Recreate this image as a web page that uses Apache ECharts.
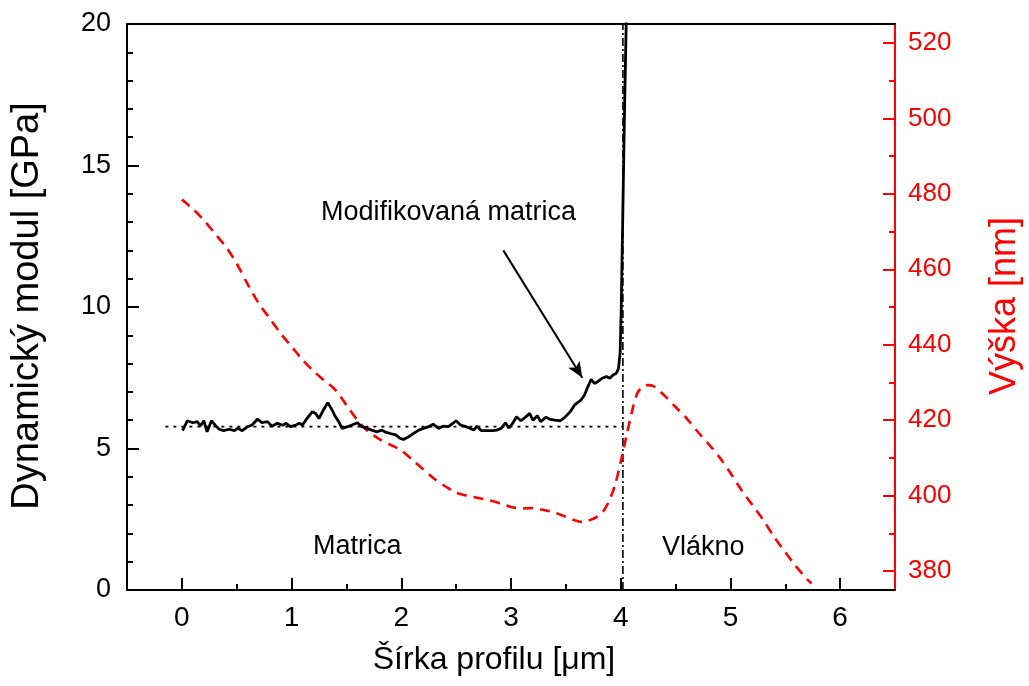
<!DOCTYPE html>
<html>
<head>
<meta charset="utf-8">
<script src="https://cdn.jsdelivr.net/npm/echarts@6/dist/echarts.min.js"></script>
<style>
  html, body { margin: 0; padding: 0; background: #fff; }
  #chart { width: 1029px; height: 686px; }
</style>
</head>
<body>
<div id="chart"></div>
<script>
// Dynamic modulus profile [GPa] across the matrix / fibre interface
const modulX = [0.006,0.05,0.10,0.14,0.17,0.20,0.23,0.27,0.31,0.34,0.38,0.43,0.48,0.51,0.55,0.60,0.64,0.69,0.73,0.78,0.82,0.87,0.92,0.95,0.99,1.04,1.07,1.10,1.14,1.19,1.22,1.25,1.29,1.33,1.37,1.40,1.43,1.46,1.51,1.55,1.60,1.64,1.69,1.73,1.78,1.82,1.85,1.90,1.95,1.99,2.02,2.07,2.11,2.16,2.20,2.25,2.29,2.34,2.38,2.43,2.46,2.50,2.54,2.59,2.63,2.66,2.69,2.73,2.78,2.83,2.87,2.91,2.95,2.98,3.01,3.05,3.09,3.13,3.17,3.20,3.24,3.27,3.32,3.35,3.40,3.45,3.49,3.54,3.58,3.62,3.64,3.67,3.70,3.73,3.76,3.79,3.83,3.87,3.90,3.93,3.96,3.98,3.995,4.005,4.02,4.035,4.05,4.056];
const modulY = [5.63,5.98,5.91,5.95,5.80,5.98,5.59,5.98,5.80,5.68,5.63,5.68,5.63,5.72,5.63,5.77,5.83,6.04,5.91,5.95,5.79,5.89,5.82,5.89,5.77,5.83,5.89,5.83,6.06,6.30,6.24,6.06,6.36,6.62,6.36,6.12,5.95,5.71,5.77,5.83,5.91,5.77,5.71,5.65,5.59,5.65,5.59,5.53,5.48,5.36,5.32,5.42,5.53,5.65,5.71,5.77,5.86,5.71,5.79,5.77,5.86,5.98,5.83,5.77,5.71,5.65,5.79,5.63,5.63,5.63,5.65,5.71,5.91,5.72,5.86,6.12,5.98,6.10,6.24,6.00,6.16,5.95,6.11,6.04,6.00,5.98,6.10,6.30,6.54,6.66,6.72,6.89,7.18,7.44,7.30,7.36,7.48,7.54,7.48,7.60,7.66,7.83,8.40,10.0,13.5,17.0,20.0,21.0];

// Surface height profile [nm]
const heightX = [0,0.1,0.2,0.3,0.4,0.5,0.6,0.7,0.8,0.9,1.0,1.1,1.2,1.3,1.4,1.5,1.6,1.7,1.8,1.9,2.0,2.1,2.2,2.3,2.4,2.5,2.6,2.7,2.8,2.9,3.0,3.1,3.2,3.3,3.4,3.5,3.6,3.65,3.7,3.78,3.84,3.9,3.95,4.0,4.05,4.1,4.15,4.2,4.25,4.3,4.4,4.5,4.6,4.7,4.8,4.9,5.0,5.1,5.2,5.3,5.4,5.5,5.6,5.7,5.74];
const heightY = [478.5,476,473,469.5,466,461.5,456,451,447,443,439.5,436,433,430.5,428,424,420,417,415,413.5,412,409.5,407,404.5,402.5,400.8,400,399.4,398.8,398,397,396.6,396.7,396.2,395.5,394.4,393.3,393,393.3,394.3,395.8,399,403,409,415.5,422,427,429,429.3,429,426.5,423.5,420.5,417,413.7,410.2,406,401.5,397.5,393.5,389,385,381.2,377.8,376.7];

// Reference guides: matrix modulus level and the matrix/fibre boundary
const matrixLevel = 5.77;
const levelFrom = -0.15;
const boundaryX = 4.02;

// Annotation arrow (from label to the modified-matrix zone)
const arrowFrom = [2.93, 12.0];
const arrowTo = [3.65, 7.5];

// Tick labels
const xTicks = [0, 1, 2, 3, 4, 5, 6];
const xMinorTicks = [0.5, 1.5, 2.5, 3.5, 4.5, 5.5];
const rightTicks = [380, 400, 420, 440, 460, 480, 500, 520];
const rightMinorTicks = [390, 410, 430, 450, 470, 490, 510];

const FONT = '"Liberation Sans", Arial, sans-serif';
const RED = '#ff0000';

const zip = (xs, ys) => xs.map((x, i) => [x, ys[i]]);

const chart = echarts.init(document.getElementById('chart'), null, { renderer: 'canvas' });

const grid = { left: 127, right: 134, top: 24, bottom: 96, containLabel: false };

chart.setOption({
  animation: false,
  backgroundColor: '#ffffff',
  grid: grid,
  xAxis: [
    {
      type: 'value', position: 'bottom', min: -0.5, max: 6.5,
      axisLine: { show: true, onZero: false, lineStyle: { color: '#000', width: 2 } },
      axisTick: { show: true, inside: true, length: 12, lineStyle: { color: '#000', width: 2 }, customValues: xTicks },
      axisLabel: { show: true, margin: 14, color: '#000', fontSize: 28, fontFamily: FONT, customValues: xTicks },
      splitLine: { show: false }
    },
    {
      type: 'value', position: 'bottom', min: -0.5, max: 6.5,
      axisLine: { show: false, onZero: false },
      axisTick: { show: true, inside: true, length: 6, lineStyle: { color: '#000', width: 2 }, customValues: xMinorTicks },
      axisLabel: { show: false },
      splitLine: { show: false }
    },
    {
      type: 'value', position: 'top', min: -0.5, max: 6.5,
      axisLine: { show: true, onZero: false, lineStyle: { color: '#000', width: 2 } },
      axisTick: { show: false }, axisLabel: { show: false }, splitLine: { show: false }
    }
  ],
  yAxis: [
    {
      type: 'value', position: 'left', min: 0, max: 20, interval: 5,
      axisLine: { show: true, onZero: false, lineStyle: { color: '#000', width: 2 } },
      axisTick: { show: true, inside: true, length: 12, lineStyle: { color: '#000', width: 2 } },
      minorTick: { show: true, splitNumber: 5, length: 6, lineStyle: { color: '#000', width: 2 } },
      axisLabel: { show: true, margin: 16, color: '#000', fontSize: 27, fontFamily: FONT },
      splitLine: { show: false }
    },
    {
      type: 'value', position: 'right', min: 375, max: 525,
      axisLine: { show: true, onZero: false, lineStyle: { color: RED, width: 2 } },
      axisTick: { show: true, inside: true, length: 12, lineStyle: { color: RED, width: 2 }, customValues: rightTicks },
      axisLabel: { show: true, margin: 13, color: RED, fontSize: 26, fontFamily: FONT, customValues: rightTicks },
      splitLine: { show: false }
    },
    {
      type: 'value', position: 'right', min: 375, max: 525,
      axisLine: { show: false, onZero: false },
      axisTick: { show: true, inside: true, length: 6, lineStyle: { color: RED, width: 2 }, customValues: rightMinorTicks },
      axisLabel: { show: false },
      splitLine: { show: false }
    }
  ],
  series: [
    {
      name: 'Výška', type: 'line', xAxisIndex: 0, yAxisIndex: 1,
      data: zip(heightX, heightY), showSymbol: false, smooth: 0.3,
      lineStyle: { color: RED, width: 2.6, type: [10, 7] }, z: 3
    },
    {
      name: 'level', type: 'line', xAxisIndex: 0, yAxisIndex: 0,
      data: [[levelFrom, matrixLevel], [boundaryX, matrixLevel]], showSymbol: false,
      lineStyle: { color: '#000', width: 1.8, type: [3, 5] }, z: 2
    },
    {
      name: 'boundary', type: 'line', xAxisIndex: 0, yAxisIndex: 0,
      data: [[boundaryX, 0], [boundaryX, 20]], showSymbol: false,
      lineStyle: { color: '#000', width: 1.6, type: [8, 3, 2, 3] }, z: 2
    },
    {
      name: 'Dynamický modul', type: 'line', xAxisIndex: 0, yAxisIndex: 0,
      data: zip(modulX, modulY), showSymbol: false, clip: true,
      lineStyle: { color: '#000', width: 2.8 }, z: 4,
      markLine: {
        silent: true, symbol: ['none', 'arrow'], symbolSize: [10, 16],
        label: { show: false },
        lineStyle: { color: '#000', width: 2, type: 'solid' },
        data: [[{ coord: arrowFrom }, { coord: arrowTo }]]
      }
    }
  ],
  graphic: [
    { type: 'text', left: 321, top: 199, style: { text: 'Modifikovaná matrica', fill: '#000', font: '27px ' + FONT } },
    { type: 'text', left: 313, top: 533, style: { text: 'Matrica', fill: '#000', font: '27px ' + FONT } },
    { type: 'text', left: 662, top: 534, style: { text: 'Vlákno', fill: '#000', font: '27px ' + FONT } },
    { type: 'text', x: 494, y: 660, style: { text: 'Šírka profilu [μm]', fill: '#000', font: '32px ' + FONT, align: 'center', verticalAlign: 'middle' } },
    { type: 'text', x: 28, y: 306, rotation: Math.PI / 2, style: { text: 'Dynamický modul [GPa]', fill: '#000', font: '38px ' + FONT, align: 'center', verticalAlign: 'middle' } },
    { type: 'text', x: 1005, y: 306, rotation: Math.PI / 2, style: { text: 'Výška [nm]', fill: RED, font: '36px ' + FONT, align: 'center', verticalAlign: 'middle' } }
  ]
});
</script>
</body>
</html>
